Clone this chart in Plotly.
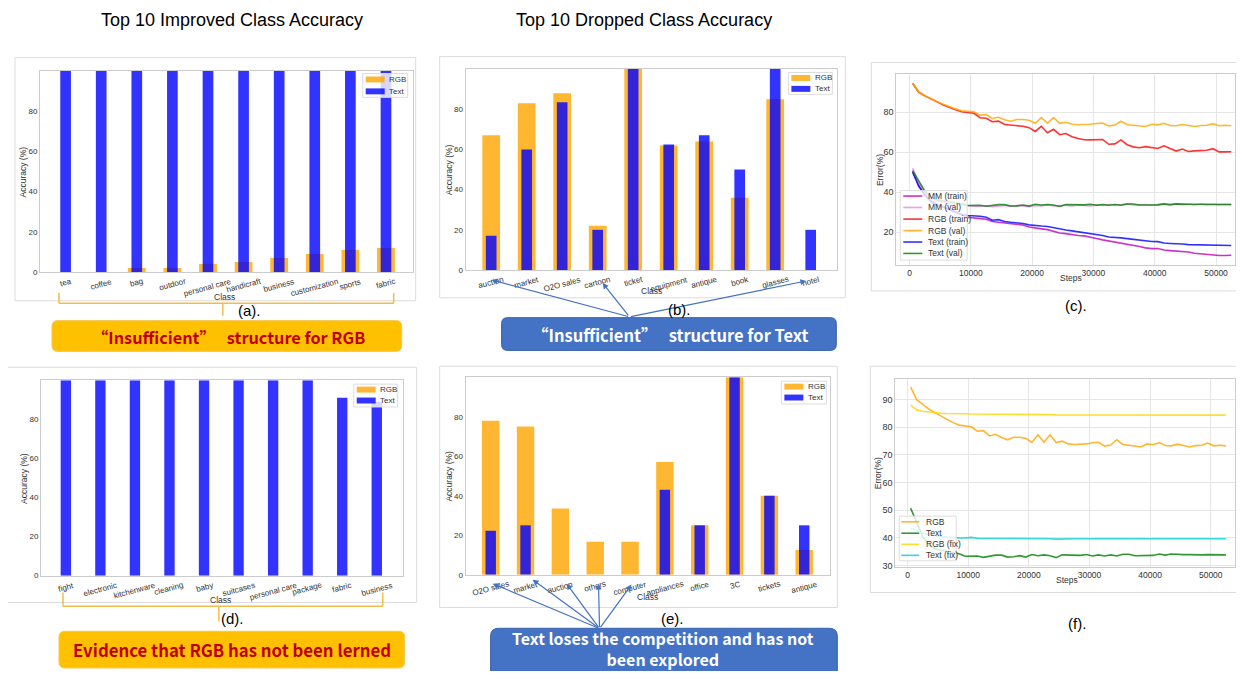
import plotly.graph_objects as go

# The page body adds an 8px margin, so the figure is drawn 16px smaller
# and reference pixel coordinates are shifted by 8px.
REF_W, REF_H = 1244, 679
OFF = 8
W, H = REF_W - 2 * OFF, REF_H - 2 * OFF


def px(x):
    return (x - OFF) / W


def py(y):
    return 1 - (y - OFF) / H


# ---------------- data ----------------
a_classes = ["tea", "coffee", "bag", "outdoor", "personal care", "handicraft",
             "business", "customization", "sports", "fabric"]
a_rgb = [0, 0, 2, 2, 4, 5, 7, 9, 11, 12]
a_text = [100, 100, 100, 100, 100, 100, 100, 100, 100, 100]

b_classes = ["auction", "market", "O2O sales", "cartoon", "ticket", "equipment",
             "antique", "book", "glasses", "hotel"]
b_rgb = [67, 83, 88, 22, 100, 62, 64, 36, 85, 0]
b_text = [17, 60, 83.5, 20, 100, 62.5, 67, 50, 100, 20]

d_classes = ["fight", "electronic", "kitchenware", "cleaning", "baby", "suitcases",
             "personal care", "package", "fabric", "business"]
d_rgb = [0, 0, 0, 0, 0, 0, 0, 0, 0, 0]
d_text = [100, 100, 100, 100, 100, 100, 100, 100, 91, 89]

e_classes = ["O2O sales", "market", "auction", "others", "computer", "appliances",
             "office", "3C", "tickets", "antique"]
e_rgb = [78, 75, 33.5, 16.7, 16.7, 57, 25, 100, 40, 12.5]
e_text = [22.2, 25, 0, 0, 0, 43, 25, 100, 40, 25]

steps = [500, 1500, 2500, 3500, 4500, 5500, 6500, 7500, 8500, 9500,
         10500, 11500, 12500, 13500, 14500, 15500, 16500, 17500, 18500, 19500,
         20500, 21500, 22500, 23500, 24500, 25500, 26500, 27500, 28500, 29500,
         30500, 31500, 32500, 33500, 34500, 35500, 36500, 37500, 38500, 39500,
         40500, 41500, 42500, 43500, 44500, 45500, 46500, 47500, 48500, 49500,
         50500, 51500, 52500]

mm_train = [50.5, 43.5, 38.8, 35.6, 34.0, 33.0, 31.5, 30.0, 28.8, 27.5,
            27.0, 26.8, 26.5, 25.4, 25.0, 24.7, 24.4, 23.8, 23.6, 22.6,
            22.0, 21.7, 21.3, 20.5, 19.6, 19.3, 18.7, 18.4, 18.2, 17.4,
            16.9, 16.2, 15.7, 15.1, 14.5, 14.1, 13.6, 12.9, 12.2, 11.8,
            11.9, 11.1, 10.8, 10.6, 10.5, 10.1, 9.5, 9.2, 9.0, 8.7,
            8.4, 8.4, 8.5]
mm_val = [52.0, 44.5, 39.5, 36.8, 35.5, 34.8, 34.3, 33.9, 33.5, 33.1,
          33.0, 32.9, 33.2, 32.8, 33.1, 33.4, 32.9, 33.3, 33.2, 32.8,
          33.4, 33.2, 33.6, 33.1, 33.3, 33.5, 33.2, 33.6, 33.4, 33.2,
          33.7, 33.4, 33.9, 33.6, 33.8, 34.2, 33.7, 33.6, 33.9, 33.5,
          33.8, 34.0, 33.7, 34.1, 33.8, 34.0, 33.6, 34.1, 33.8, 34.0,
          33.8, 34.0, 33.8]
rgb_train = [94.5, 90.0, 88.2, 86.5, 85.2, 83.6, 82.3, 81.3, 80.3, 79.8,
             79.5, 77.3, 77.0, 75.3, 75.6, 73.9, 73.6, 73.0, 73.0, 72.3,
             70.4, 73.0, 69.8, 71.5, 68.8, 69.4, 67.8, 66.9, 66.3, 66.2,
             66.3, 66.4, 64.0, 64.2, 66.2, 63.8, 62.7, 62.3, 62.8, 62.4,
             61.9, 63.2, 61.9, 60.6, 61.6, 60.4, 60.7, 60.7, 61.0, 61.8,
             60.2, 60.2, 60.3]
rgb_val = [94.5, 90.0, 88.3, 86.6, 85.3, 84.0, 82.8, 81.7, 80.8, 80.4,
           80.2, 78.6, 78.8, 76.9, 77.5, 76.3, 75.5, 76.4, 76.4, 76.0,
           74.5, 77.3, 74.6, 77.3, 74.5, 75.0, 74.0, 73.8, 73.8, 74.0,
           74.4, 74.6, 73.2, 73.6, 75.5, 73.8, 73.5, 73.1, 72.9, 74.0,
           73.7, 74.5, 73.4, 73.3, 73.9, 73.4, 72.9, 73.4, 73.5, 74.3,
           73.3, 73.5, 73.3]
text_train = [50.0, 43.0, 38.5, 35.3, 33.5, 32.5, 31.2, 30.0, 29.0, 28.4,
              28.3, 28.0, 27.5, 26.0, 26.3, 25.4, 25.0, 24.7, 24.4, 23.7,
              23.3, 23.1, 22.9, 22.2, 21.6, 21.1, 20.7, 20.3, 19.9, 19.5,
              19.0, 18.4, 17.6, 17.5, 17.2, 16.8, 16.4, 16.0, 15.6, 15.4,
              15.3, 14.6, 14.4, 14.4, 14.1, 13.8, 13.7, 13.7, 13.6, 13.5,
              13.4, 13.4, 13.4]
text_val = [50.8, 45.5, 40.5, 37.5, 36.2, 35.6, 35.2, 34.7, 34.3, 33.4,
            33.5, 33.5, 33.0, 33.4, 33.8, 33.8, 33.1, 33.2, 33.6, 33.1,
            34.0, 33.6, 33.9, 33.6, 32.9, 33.9, 33.8, 33.7, 33.7, 34.0,
            33.5, 33.9, 33.5, 33.9, 33.5, 34.1, 34.1, 33.6, 33.6, 33.7,
            33.7, 34.2, 33.8, 34.2, 34.0, 34.0, 34.0, 33.9, 33.9, 34.0,
            33.9, 33.9, 33.9]
rgb_fix = [88.0, 86.3, 85.8, 85.5, 85.3, 85.1, 85.0, 85.0, 85.1, 84.9,
           84.8, 84.8, 84.7, 84.7, 84.7, 84.7, 84.6, 84.6, 84.6, 84.6,
           84.6, 84.6, 84.6, 84.6, 84.5, 84.5, 84.5, 84.5, 84.5, 84.5,
           84.5, 84.5, 84.4, 84.4, 84.4, 84.4, 84.5, 84.4, 84.4, 84.4,
           84.5, 84.4, 84.4, 84.4, 84.4, 84.4, 84.5, 84.4, 84.4, 84.4,
           84.4, 84.4, 84.4]
text_fix = [43.5, 42.6, 41.8, 41.2, 40.8, 40.5, 40.3, 40.1, 40.0, 40.0,
            40.2, 39.9, 39.9, 39.9, 39.9, 39.9, 39.8, 39.8, 39.8, 39.8,
            39.7, 39.7, 39.7, 39.7, 39.6, 39.7, 39.7, 39.7, 39.7, 39.6,
            39.7, 39.7, 39.6, 39.7, 39.7, 39.7, 39.7, 39.6, 39.7, 39.6,
            39.6, 39.7, 39.7, 39.6, 39.7, 39.6, 39.7, 39.7, 39.6, 39.7,
            39.7, 39.6, 39.7]

acc_ticks = [0, 20, 40, 60, 80]
step_ticks = [0, 10000, 20000, 30000, 40000, 50000]

FONT = "Liberation Sans, Arial, sans-serif"
BOXFONT = "Noto Sans CJK SC, Noto Sans, sans-serif"
ORANGE = "#FFA500"
BLUE = "#0000FF"
ORANGE_A = "rgba(255,165,0,0.8)"
BLUE_A = "rgba(0,0,255,0.8)"
GRID = "#E6E6E6"
SPINE = "#CCCCCC"
TICKC = "#333333"
LEGBORDER = "#DDDDDD"

fig = go.Figure()
annotations = []
shapes = []
layout_axes = {}


def text_ann(t, x, y, size, color="#000000", family=FONT, angle=0,
             xanchor="center", yanchor="middle", align="center"):
    annotations.append(dict(x=px(x), y=py(y), xref="paper", yref="paper", text=t,
                            showarrow=False, textangle=angle, xanchor=xanchor,
                            yanchor=yanchor, align=align,
                            font=dict(size=size, color=color, family=family)))


def legend_box(x0, y0, x1, y1):
    shapes.append(dict(type="rect", xref="paper", yref="paper",
                       x0=px(x0), x1=px(x1), y0=py(y0), y1=py(y1),
                       fillcolor="rgba(255,255,255,0.8)",
                       line=dict(color=LEGBORDER, width=1)))


def bar_legend(x0, y0, x1, y1, rows):
    legend_box(x0, y0, x1, y1)
    for (name, col), ry in zip([("RGB", ORANGE_A), ("Text", BLUE_A)], rows):
        shapes.append(dict(type="rect", xref="paper", yref="paper",
                           x0=px(x0 + 3), x1=px(x0 + 22), y0=py(ry - 3),
                           y1=py(ry + 3), fillcolor=col, line=dict(width=0)))
        text_ann(name, x0 + 24.5, ry, 8, TICKC, xanchor="left")


def line_legend(x0, y0, x1, y1, entries, rows, sx0, sx1, tx):
    legend_box(x0, y0, x1, y1)
    for (name, col), ry in zip(entries, rows):
        shapes.append(dict(type="line", xref="paper", yref="paper",
                           x0=px(sx0), x1=px(sx1), y0=py(ry), y1=py(ry),
                           line=dict(color=col, width=1.6), opacity=0.8))
        text_ann(name, tx, ry, 8.5, TICKC, xanchor="left")


# ---------------- bar panels ----------------
bar_panels = [
    (1, a_classes, a_rgb, a_text, (40, 413), (71.5, 274),
     (363, 74, 408, 98), (80, 92), (225, 299)),
    (2, b_classes, b_rgb, b_text, (466, 838), (69.5, 272),
     (789, 73, 833, 95), (78.5, 89.5), (652, 293)),
    (4, d_classes, d_rgb, d_text, (41, 403), (383, 580),
     (354, 387, 398, 410), (392.5, 403.5), (221, 604)),
    (5, e_classes, e_rgb, e_text, (466, 831), (380, 579),
     (782, 384, 827, 407), (389.5, 400.5), (648, 601)),
]

for idx, cls, rgb, txt, (x0, x1), (yt, yb), lbox, lrows, cpos in bar_panels:
    xa = "x" if idx == 1 else f"x{idx}"
    ya = "y" if idx == 1 else f"y{idx}"
    fig.add_trace(go.Bar(x=cls, y=rgb, name="RGB", width=0.5,
                         marker=dict(color=ORANGE, line=dict(width=0)),
                         opacity=0.8, xaxis=xa, yaxis=ya, showlegend=False))
    fig.add_trace(go.Bar(x=cls, y=txt, name="Text", width=0.3,
                         marker=dict(color=BLUE, line=dict(width=0)),
                         opacity=0.8, xaxis=xa, yaxis=ya, showlegend=False))
    xkey = "xaxis" if idx == 1 else f"xaxis{idx}"
    ykey = "yaxis" if idx == 1 else f"yaxis{idx}"
    layout_axes[xkey] = dict(domain=[px(x0), px(x1)], anchor=ya, type="category",
                             range=[-0.72, 9.75], showticklabels=False,
                             showgrid=False, zeroline=False, ticks="",
                             showline=True, mirror=True, linecolor=SPINE,
                             linewidth=1)
    layout_axes[ykey] = dict(domain=[py(yb), py(yt)], anchor=xa, range=[0, 100],
                             tickvals=acc_ticks, showgrid=False, zeroline=False,
                             ticks="", showline=True, mirror=True,
                             linecolor=SPINE, linewidth=1,
                             tickfont=dict(size=8, color=TICKC, family=FONT))
    # rotated category labels, placed on the category axis
    for c in cls:
        annotations.append(dict(x=c, xref=xa, y=py(yb + 2.5), yref="paper",
                                text=c, showarrow=False, textangle=-15,
                                xanchor="center", yanchor="top",
                                font=dict(size=8, color=TICKC, family=FONT)))
    text_ann("Class", cpos[0], cpos[1], 8.5, TICKC)
    text_ann("Accuracy (%)", x0 - 17, (yt + yb) / 2, 8.5, TICKC, angle=-90)
    bar_legend(*lbox, lrows)

# ---------------- line panels ----------------
c_series = [("MM (train)", mm_train, "#BF00BF"),
            ("MM (val)", mm_val, "#EE82EE"),
            ("RGB (train)", rgb_train, "#FF0000"),
            ("RGB (val)", rgb_val, "#FFA500"),
            ("Text (train)", text_train, "#0000FF"),
            ("Text (val)", text_val, "#008000")]
for name, ys, col in c_series:
    fig.add_trace(go.Scatter(x=steps, y=ys, name=name, mode="lines",
                             line=dict(color=col, width=1.6), opacity=0.8,
                             xaxis="x3", yaxis="y3", showlegend=False))

f_series = [("RGB", rgb_val, "#FFA500"),
            ("Text", text_val, "#008000"),
            ("RGB (fix)", rgb_fix, "#FFD700"),
            ("Text (fix)", text_fix, "#00CED1")]
for name, ys, col in f_series:
    fig.add_trace(go.Scatter(x=steps, y=ys, name=name, mode="lines",
                             line=dict(color=col, width=1.6), opacity=0.8,
                             xaxis="x6", yaxis="y6", showlegend=False))

line_panels = [
    (3, (897, 1236), (75, 267), [-2170, 53100], [3.6, 98.9], [20, 40, 60, 80],
     (1072, 280)),
    (6, (896, 1236), (382, 571), [-2030, 54000], [29.6, 97.4],
     [30, 40, 50, 60, 70, 80, 90], (1068, 584)),
]
for idx, (x0, x1), (yt, yb), xr, yr, yt_vals, spos in line_panels:
    layout_axes[f"xaxis{idx}"] = dict(domain=[px(x0), min(1.0, px(x1))],
                                      anchor=f"y{idx}",
                                      range=xr, tickvals=step_ticks, tickformat="d",
                                      showgrid=True, gridcolor=GRID, zeroline=False,
                                      ticks="", showline=True, mirror=True,
                                      linecolor=SPINE, linewidth=1,
                                      tickfont=dict(size=8.5, color=TICKC, family=FONT))
    layout_axes[f"yaxis{idx}"] = dict(domain=[py(yb), py(yt)], anchor=f"x{idx}",
                                      range=yr, tickvals=yt_vals,
                                      showgrid=True, gridcolor=GRID, zeroline=False,
                                      ticks="", showline=True, mirror=True,
                                      linecolor=SPINE, linewidth=1,
                                      tickfont=dict(size=9, color=TICKC, family=FONT))
    text_ann("Steps", spos[0], spos[1], 8.5, TICKC)
    text_ann("Error(%)", x0 - 17, (yt + yb) / 2, 8.5, TICKC, angle=-90)

line_legend(901, 192, 968, 262, [(n, c) for n, _, c in c_series],
            [197.5, 209, 220.7, 232.3, 243.8, 255.3], 904, 923, 926.5)
line_legend(900, 520, 957, 565, [(n, c) for n, _, c in f_series],
            [525.7, 537.2, 548.4, 559.5], 902, 920, 924.3)

# ---------------- frames, brackets, boxes ----------------
frames = [(15, 58, 416, 303), (440, 57, 846, 300), (872, 63, 1260, 293),
          (7, 370, 417, 607), (440, 369, 838, 612), (871, 369, 1260, 597)]
for x0, y0, x1, y1 in frames:
    shapes.append(dict(type="rect", xref="paper", yref="paper",
                       x0=px(x0), x1=px(x1), y0=py(y0), y1=py(y1),
                       line=dict(color="#DCDCDC", width=1), layer="below"))

BR = "#EDBE4C"


def bracket(xl, xr, ytop, ybar, xs, ystem):
    segs = [(xl, ytop, xl, ybar), (xl, ybar, xr, ybar), (xr, ybar, xr, ytop),
            (xs, ybar, xs, ystem)]
    for a, b, c, d in segs:
        shapes.append(dict(type="line", xref="paper", yref="paper",
                           x0=px(a), y0=py(b), x1=px(c), y1=py(d),
                           line=dict(color=BR, width=1.5)))


bracket(59, 394, 295, 305.5, 223, 318)
bracket(63, 383, 597, 610.7, 219, 626)


def rrect(x0, y0, x1, y1, r, fill, line):
    p = (f"M {px(x0 + r)},{py(y0)} L {px(x1 - r)},{py(y0)} "
         f"Q {px(x1)},{py(y0)} {px(x1)},{py(y0 + r)} "
         f"L {px(x1)},{py(y1 - r)} Q {px(x1)},{py(y1)} {px(x1 - r)},{py(y1)} "
         f"L {px(x0 + r)},{py(y1)} Q {px(x0)},{py(y1)} {px(x0)},{py(y1 - r)} "
         f"L {px(x0)},{py(y0 + r)} Q {px(x0)},{py(y0)} {px(x0 + r)},{py(y0)} Z")
    shapes.append(dict(type="path", xref="paper", yref="paper", path=p,
                       fillcolor=fill, line=dict(color=line, width=1)))


rrect(52, 323, 402, 354, 6, "#FFC000", "#F5C85A")
rrect(59, 636, 405, 673, 6, "#FFC000", "#F5C85A")
rrect(502, 320, 837, 353, 6, "#4472C4", "#3A62AA")
rrect(491, 633, 838, 700, 8, "#4472C4", "#3A62AA")

text_ann("<b>\u201cInsufficient\u201d   structure for RGB</b>", 229, 339, 16.3,
         "#C00000", BOXFONT)
text_ann("<b>Evidence that RGB has not been lerned</b>", 232, 655, 16.8,
         "#C00000", BOXFONT)
text_ann("<b>\u201cInsufficient\u201d   structure for Text</b>", 671, 337, 16.5,
         "#FFFFFF", BOXFONT)
text_ann("<b>Text loses the competition and has not<br>been explored</b>", 664,
         653, 16, "#FFFFFF", BOXFONT)

# arrows
ARROW = "#4472C4"
arrows = [((630, 319), [(492, 282), (603, 285), (807, 283)]),
          ((600, 633), [(493, 588), (533, 584), (567, 588), (599, 588), (632, 589)])]
for (tx, ty), heads in arrows:
    for hx, hy in heads:
        annotations.append(dict(x=px(hx), y=py(hy), xref="paper", yref="paper",
                                text="", showarrow=True, ax=tx - hx, ay=ty - hy,
                                axref="pixel", ayref="pixel", arrowhead=2,
                                arrowsize=1, arrowwidth=1.2, arrowcolor=ARROW,
                                standoff=0, startstandoff=0))

# panel labels and titles
for t, x, y in [("(a).", 250, 313), ("(b).", 680, 312), ("(c).", 1077, 308),
                ("(d).", 233, 623), ("(e).", 673, 623), ("(f).", 1078, 628)]:
    text_ann(t, x, y, 15)

for t, x, y in [("Top 10 Improved Class Accuracy", 232, 20),
                ("Top 10 Dropped Class Accuracy", 645, 20)]:
    text_ann(t, x, y, 18)

fig.update_layout(width=W, height=H, margin=dict(l=0, r=0, t=0, b=0),
                  paper_bgcolor="white", plot_bgcolor="white",
                  barmode="overlay", showlegend=False,
                  shapes=shapes, annotations=annotations, **layout_axes)

fig.write_html("out.html")
